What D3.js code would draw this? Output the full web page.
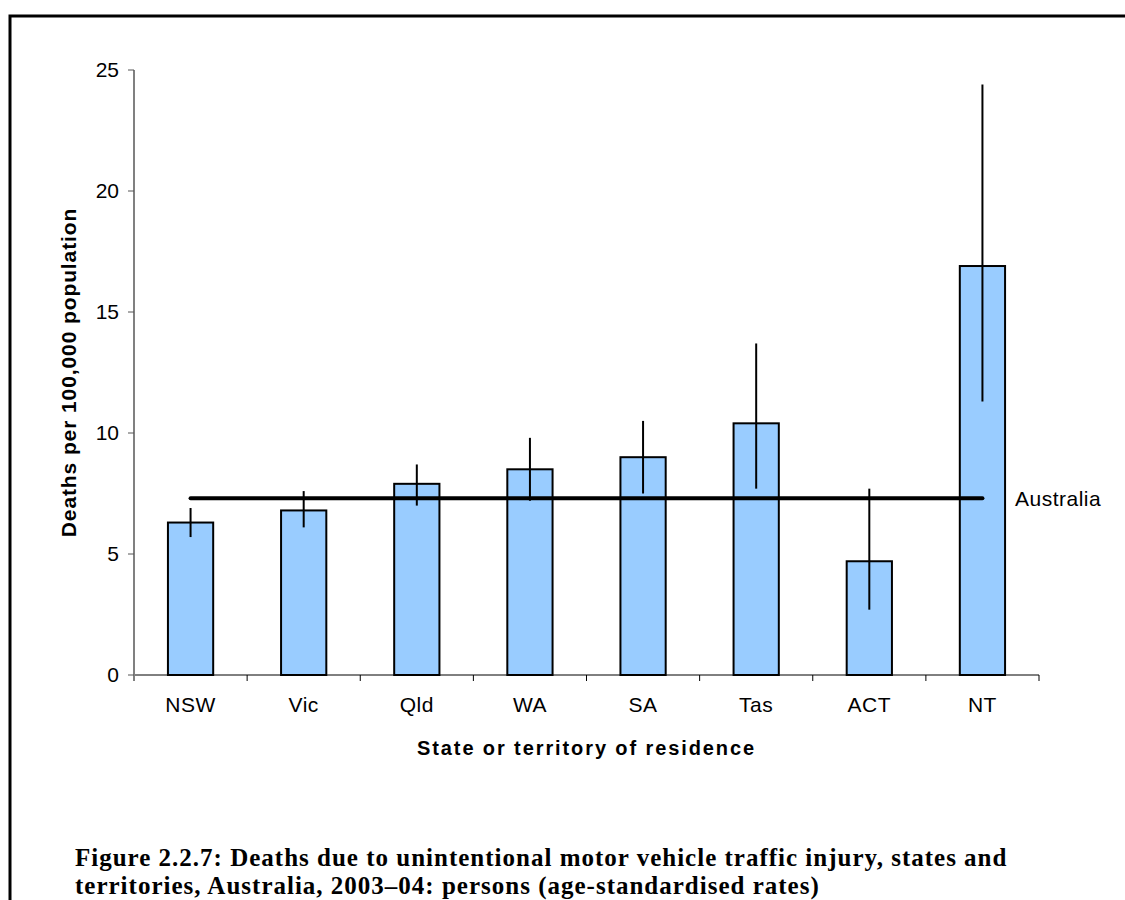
<!DOCTYPE html>
<html>
<head>
<meta charset="utf-8">
<script src="https://cdn.jsdelivr.net/npm/d3@7"></script>
<style>
  html, body { margin: 0; padding: 0; background: #fff; }
  svg { display: block; }
</style>
</head>
<body>
<svg id="chart" width="1125" height="900"></svg>
<script>
const categories = ["NSW", "Vic", "Qld", "WA", "SA", "Tas", "ACT", "NT"];
const rates      = [6.3, 6.8, 7.9, 8.5, 9.0, 10.4, 4.7, 16.9];
const lowerCI    = [5.7, 6.1, 7.0, 7.2, 7.5, 7.7, 2.7, 11.3];
const upperCI    = [6.9, 7.6, 8.7, 9.8, 10.5, 13.7, 7.7, 24.4];
const australiaRate = 7.3;
const yTicks = [0, 5, 10, 15, 20, 25];
const yTitle = "Deaths per 100,000 population";
const xTitle = "State or territory of residence";
const captionLines = [
  "Figure 2.2.7: Deaths due to unintentional motor vehicle traffic injury, states and",
  "territories, Australia, 2003\u201304: persons (age-standardised rates)"
];

(function () {
const svg = d3.select("#chart");
const pL = 134, pR = 1039, pT = 70, pB = 675;
const sans = "Liberation Sans, Arial, sans-serif";

// frame
svg.append("rect").attr("x", 10).attr("y", 16).attr("width", 1200).attr("height", 1000)
  .attr("fill", "none").attr("stroke", "#000").attr("stroke-width", 3);

const x = d3.scaleBand().domain(categories).range([pL, pR]).paddingInner(0).paddingOuter(0);
const y = d3.scaleLinear().domain([0, 25]).range([pB, pT]);
const barW = x.bandwidth() * 0.4;

// x axis
const xAxis = svg.append("g").attr("transform", `translate(0,${pB})`);
xAxis.append("line").attr("x1", pL).attr("x2", pR).attr("y1", 0).attr("y2", 0)
  .attr("stroke", "#000").attr("stroke-width", 1);
const xTickPos = categories.map(c => x(c)).concat([pR]);
xAxis.selectAll(".xt").data(xTickPos).enter().append("line")
  .attr("x1", d => d).attr("x2", d => d).attr("y1", 0).attr("y2", 6)
  .attr("stroke", "#000").attr("stroke-width", 1);
xAxis.selectAll(".xl").data(categories).enter().append("text")
  .attr("x", d => x(d) + x.bandwidth() / 2).attr("y", 37)
  .attr("text-anchor", "middle")
  .attr("font-family", sans).attr("font-size", 21).attr("letter-spacing", 0.5)
  .text(d => d);

// y axis
const yAxis = svg.append("g");
yAxis.append("line").attr("x1", pL).attr("x2", pL).attr("y1", pT).attr("y2", pB + 5)
  .attr("stroke", "#808080").attr("stroke-width", 2);
yAxis.selectAll(".yt").data(yTicks).enter().append("line")
  .attr("x1", pL - 6).attr("x2", pL).attr("y1", d => y(d)).attr("y2", d => y(d))
  .attr("stroke", "#555").attr("stroke-width", 1);
yAxis.selectAll(".yl").data(yTicks).enter().append("text")
  .attr("x", pL - 15).attr("y", d => y(d)).attr("dy", "0.35em")
  .attr("text-anchor", "end")
  .attr("font-family", sans).attr("font-size", 21)
  .text(d => d);

// bars
svg.selectAll(".bar").data(categories).enter().append("rect")
  .attr("x", d => x(d) + (x.bandwidth() - barW) / 2)
  .attr("y", (d, i) => y(rates[i]))
  .attr("width", barW)
  .attr("height", (d, i) => y(0) - y(rates[i]))
  .attr("fill", "#99CCFF").attr("stroke", "#000").attr("stroke-width", 2);

// Australia line
svg.append("line")
  .attr("x1", x(categories[0]) + x.bandwidth() / 2)
  .attr("x2", x(categories[categories.length - 1]) + x.bandwidth() / 2)
  .attr("y1", y(australiaRate)).attr("y2", y(australiaRate))
  .attr("stroke", "#000").attr("stroke-width", 4).attr("stroke-linecap", "round");
svg.append("text").attr("x", 1015).attr("y", y(australiaRate)).attr("dy", "0.35em")
  .attr("font-family", sans).attr("font-size", 21).attr("letter-spacing", 0.5)
  .text("Australia");

// error bars
svg.selectAll(".err").data(categories).enter().append("line")
  .attr("x1", d => x(d) + x.bandwidth() / 2).attr("x2", d => x(d) + x.bandwidth() / 2)
  .attr("y1", (d, i) => y(lowerCI[i])).attr("y2", (d, i) => y(upperCI[i]))
  .attr("stroke", "#000").attr("stroke-width", 2);

// axis titles
svg.append("text")
  .attr("transform", `translate(76,${(pT + pB) / 2}) rotate(-90)`)
  .attr("text-anchor", "middle")
  .attr("font-family", sans).attr("font-size", 21)
  .attr("font-weight", "bold").attr("letter-spacing", 0.9)
  .text(yTitle);
svg.append("text")
  .attr("x", (pL + pR) / 2).attr("y", 755)
  .attr("text-anchor", "middle")
  .attr("font-family", sans).attr("font-size", 20)
  .attr("font-weight", "bold").attr("letter-spacing", 1.9)
  .text(xTitle);

// caption
svg.selectAll(".cap").data(captionLines).enter().append("text")
  .attr("x", 75).attr("y", (d, i) => 866 + i * 28)
  .attr("font-family", "Liberation Serif, Times New Roman, serif").attr("font-size", 25)
  .attr("font-weight", "bold").attr("letter-spacing", 1)
  .text(d => d);
})();
</script>
</body>
</html>
